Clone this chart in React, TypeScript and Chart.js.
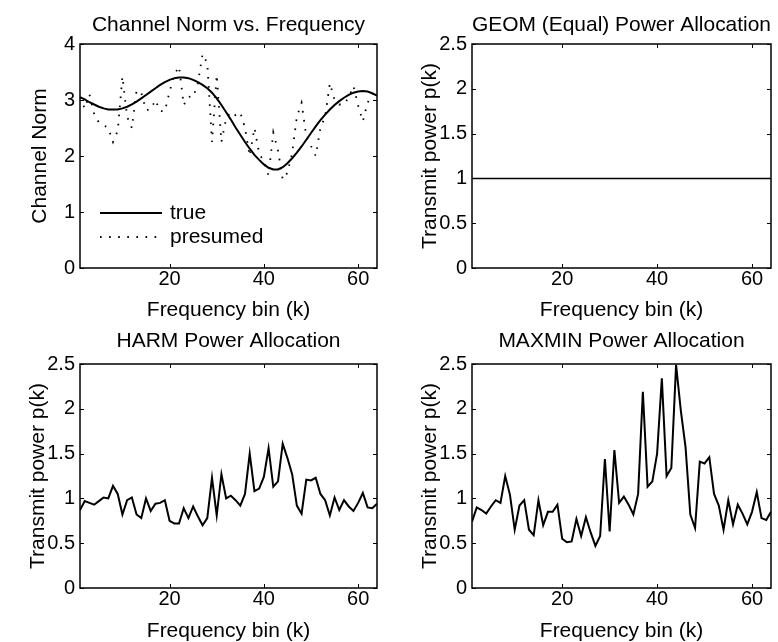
import React, { useEffect, useRef } from "react";
import { Chart, registerables } from "chart.js";

Chart.register(...registerables);

// Frequency bins k = 1..64
const bins: number[] = Array.from({ length: 64 }, (_, i) => i + 1);
const xTickValues = [20, 40, 60];

const trueNorm = [
  3.05, 3.01, 2.96, 2.92, 2.88, 2.85, 2.83, 2.83, 2.83, 2.85,
  2.88, 2.92, 2.97, 3.03, 3.09, 3.15, 3.21, 3.27, 3.32, 3.36,
  3.39, 3.40, 3.40, 3.39, 3.36, 3.32, 3.27, 3.21, 3.13, 3.03,
  2.91, 2.78, 2.65, 2.51, 2.38, 2.25, 2.13, 2.02, 1.93, 1.85,
  1.79, 1.76, 1.76, 1.80, 1.87, 1.96, 2.06, 2.17, 2.29, 2.41,
  2.53, 2.64, 2.74, 2.83, 2.91, 2.98, 3.04, 3.09, 3.13, 3.15,
  3.16, 3.15, 3.12, 3.08,
];

const presumedNorm = [
  3.05, 2.85, 3.10, 2.75, 2.60, 2.55, 2.50, 2.25, 2.45, 3.42,
  2.70, 2.50, 3.17, 3.13, 2.82, 2.83, 3.00, 2.80, 2.80, 3.15,
  3.45, 3.60, 2.91, 3.06, 3.05, 3.30, 3.82, 3.66, 2.25, 3.45,
  2.25, 2.67, 2.79, 2.73, 2.78, 2.50, 2.00, 2.50, 2.05, 1.90,
  1.65, 2.42, 2.10, 1.58, 1.70, 2.05, 2.70, 2.95, 2.35, 2.18,
  2.00, 2.50, 2.70, 3.30, 3.00, 2.92, 2.92, 3.05, 3.25, 2.90,
  2.62, 2.95, 3.10, 3.17,
];

const geomPower = [
  1, 1, 1, 1, 1, 1, 1, 1, 1, 1, 1, 1, 1, 1, 1, 1,
  1, 1, 1, 1, 1, 1, 1, 1, 1, 1, 1, 1, 1, 1, 1, 1,
  1, 1, 1, 1, 1, 1, 1, 1, 1, 1, 1, 1, 1, 1, 1, 1,
  1, 1, 1, 1, 1, 1, 1, 1, 1, 1, 1, 1, 1, 1, 1, 1,
];

const harmPower = [
  0.87, 0.97, 0.95, 0.93, 0.97, 1.01, 1.00, 1.14, 1.05, 0.82,
  0.98, 1.01, 0.82, 0.78, 1.00, 0.86, 0.94, 0.95, 0.98, 0.75,
  0.72, 0.72, 0.89, 0.78, 0.91, 0.80, 0.70, 0.78, 1.23, 0.81,
  1.27, 1.00, 1.03, 0.98, 0.92, 1.05, 1.50, 1.08, 1.11, 1.24,
  1.56, 1.13, 1.19, 1.61, 1.45, 1.27, 0.92, 0.83, 1.21, 1.20,
  1.23, 1.05, 0.98, 0.81, 1.01, 0.87, 0.98, 0.91, 0.86, 0.95,
  1.06, 0.90, 0.89, 0.94,
];

const maxminPower = [
  0.74, 0.90, 0.87, 0.83, 0.91, 0.98, 0.95, 1.25, 1.04, 0.65,
  0.92, 0.98, 0.65, 0.59, 0.98, 0.70, 0.85, 0.85, 0.93, 0.55,
  0.51, 0.52, 0.77, 0.58, 0.79, 0.62, 0.47, 0.58, 1.44, 0.63,
  1.54, 0.95, 1.02, 0.93, 0.82, 1.05, 2.19, 1.13, 1.19, 1.50,
  2.34, 1.25, 1.34, 2.49, 1.98, 1.57, 0.82, 0.67, 1.41, 1.39,
  1.46, 1.05, 0.92, 0.65, 0.98, 0.71, 0.93, 0.83, 0.71, 0.85,
  1.07, 0.78, 0.76, 0.85,
];

const FONT = '"Liberation Sans", Arial, Helvetica, sans-serif';
const FS = 21;
const TICK_FS = 20;

type SeriesDef = { label: string; values: number[]; dash?: number[]; width: number };
type PanelDef = {
  left: number; top: number; w: number; h: number;
  plotLeft: number; plotRight: number; plotTop: number; plotBottom: number;
  titleMid: number; yTitleMid: number;
  title: string; yTitle: string; yMax: number; yStep: number;
  series: SeriesDef[]; legend: boolean;
};

const panels: PanelDef[] = [
  {
    left: 0, top: 0, w: 389, h: 321,
    plotLeft: 80, plotRight: 377, plotTop: 44, plotBottom: 268,
    titleMid: 25, yTitleMid: 40,
    title: "Channel Norm vs. Frequency", yTitle: "Channel Norm", yMax: 4, yStep: 1,
    series: [
      { label: "true", values: trueNorm, width: 2 },
      { label: "presumed", values: presumedNorm, dash: [1.6, 7.5], width: 1.8 },
    ],
    legend: true,
  },
  {
    left: 389, top: 0, w: 389, h: 321,
    plotLeft: 83, plotRight: 382, plotTop: 44, plotBottom: 268,
    titleMid: 25, yTitleMid: 41,
    title: "GEOM (Equal) Power Allocation", yTitle: "Transmit power p(k)", yMax: 2.5, yStep: 0.5,
    series: [{ label: "GEOM", values: geomPower, width: 1.5 }],
    legend: false,
  },
  {
    left: 0, top: 321, w: 389, h: 321,
    plotLeft: 80, plotRight: 377, plotTop: 43, plotBottom: 267,
    titleMid: 20, yTitleMid: 38,
    title: "HARM Power Allocation", yTitle: "Transmit power p(k)", yMax: 2.5, yStep: 0.5,
    series: [{ label: "HARM", values: harmPower, width: 2 }],
    legend: false,
  },
  {
    left: 389, top: 321, w: 389, h: 321,
    plotLeft: 83, plotRight: 382, plotTop: 43, plotBottom: 267,
    titleMid: 20, yTitleMid: 41,
    title: "MAXMIN Power Allocation", yTitle: "Transmit power p(k)", yMax: 2.5, yStep: 0.5,
    series: [{ label: "MAXMIN", values: maxminPower, width: 2 }],
    legend: false,
  },
];

const framePlugin = {
  id: "matlabFrame",
  afterDatasetsDraw(chart: any, _args: any, opts: any) {
    const { ctx, chartArea, scales } = chart;
    const { left, right, top, bottom } = chartArea;
    ctx.save();
    ctx.strokeStyle = "#000";
    ctx.lineWidth = 1.5;
    ctx.strokeRect(left, top, right - left, bottom - top);
    ctx.lineWidth = 1;
    const tl = 4;
    ctx.beginPath();
    for (const t of scales.x.ticks) {
      const px = Math.round(scales.x.getPixelForValue(t.value)) + 0.5;
      ctx.moveTo(px, bottom); ctx.lineTo(px, bottom - tl);
      ctx.moveTo(px, top); ctx.lineTo(px, top + tl);
    }
    for (const t of scales.y.ticks) {
      const py = Math.round(scales.y.getPixelForValue(t.value)) + 0.5;
      ctx.moveTo(left, py); ctx.lineTo(left + tl, py);
      ctx.moveTo(right, py); ctx.lineTo(right - tl, py);
    }
    ctx.stroke();

    if (opts && opts.legend) {
      ctx.font = `${FS}px ${FONT}`;
      ctx.fillStyle = "#000";
      ctx.textBaseline = "middle";
      ctx.textAlign = "left";
      const rows = [bottom - 55, bottom - 31];
      chart.data.datasets.forEach((ds: any, i: number) => {
        const y = rows[i];
        ctx.beginPath();
        ctx.lineWidth = ds.borderWidth;
        ctx.setLineDash(ds.borderDash || []);
        ctx.moveTo(left + 20, y);
        ctx.lineTo(left + 82, y);
        ctx.stroke();
        ctx.setLineDash([]);
        ctx.fillText(ds.label, left + 90, y);
      });
    }
    ctx.restore();
  },
};

function Panel({ cfg }: { cfg: PanelDef }) {
  const ref = useRef<HTMLCanvasElement>(null);
  useEffect(() => {
    if (!ref.current) return;
    const titlePadTop = cfg.titleMid - FS / 2;
    const titlePadBottom = cfg.plotTop - titlePadTop - FS;
    const chart = new Chart(ref.current, {
      type: "line",
      data: {
        datasets: cfg.series.map((s) => ({
          label: s.label,
          data: bins.map((k, i) => ({ x: k, y: s.values[i] })),
          borderColor: "#000",
          backgroundColor: "#000",
          borderWidth: s.width,
          borderDash: s.dash || [],
          borderCapStyle: "butt",
          pointRadius: 0,
          tension: 0,
          fill: false,
        })),
      },
      options: {
        responsive: false,
        animation: false,
        devicePixelRatio: 1,
        layout: { padding: { left: 0, right: cfg.w - cfg.plotRight, top: 0, bottom: 0 } },
        plugins: {
          legend: { display: false },
          tooltip: { enabled: false },
          title: {
            display: true,
            text: cfg.title,
            fullSize: false,
            color: "#000",
            font: { family: FONT, size: FS, weight: "normal", lineHeight: 1 },
            padding: { top: titlePadTop, bottom: titlePadBottom },
          },
          matlabFrame: { legend: cfg.legend },
        } as any,
        scales: {
          x: {
            type: "linear",
            min: 1,
            max: 64,
            grid: { display: false, drawTicks: false },
            border: { display: false },
            afterBuildTicks: (s: any) => {
              s.ticks = xTickValues.map((v) => ({ value: v }));
            },
            afterFit: (s: any) => {
              s.height = cfg.h - cfg.plotBottom;
            },
            ticks: {
              color: "#000",
              padding: 1,
              maxRotation: 0,
              autoSkip: false,
              font: { family: FONT, size: TICK_FS, lineHeight: 1 },
              callback: (v: any) => String(Number(v)),
            },
            title: {
              display: true,
              text: "Frequency bin (k)",
              color: "#000",
              font: { family: FONT, size: FS, lineHeight: 1 },
              padding: { top: 0, bottom: 0 },
            },
          },
          y: {
            type: "linear",
            min: 0,
            max: cfg.yMax,
            grid: { display: false, drawTicks: false },
            border: { display: false },
            afterFit: (s: any) => {
              s.width = cfg.plotLeft;
            },
            ticks: {
              stepSize: cfg.yStep,
              color: "#000",
              padding: 5,
              font: { family: FONT, size: TICK_FS, lineHeight: 1 },
              callback: (v: any) => String(Number(v)),
            },
            title: {
              display: true,
              text: cfg.yTitle,
              color: "#000",
              font: { family: FONT, size: FS, lineHeight: 1 },
              padding: { top: cfg.yTitleMid - FS / 2, bottom: 0 },
            },
          },
        },
      } as any,
      plugins: [framePlugin],
    });
    return () => chart.destroy();
  }, []);
  return (
    <canvas
      ref={ref}
      width={cfg.w}
      height={cfg.h}
      style={{ position: "absolute", left: cfg.left, top: cfg.top, width: cfg.w, height: cfg.h }}
    />
  );
}

export default function App() {
  return (
    <div style={{ position: "absolute", left: 0, top: 0, width: 778, height: 642, background: "#fff" }}>
      {panels.map((p, i) => (
        <Panel key={i} cfg={p} />
      ))}
    </div>
  );
}
